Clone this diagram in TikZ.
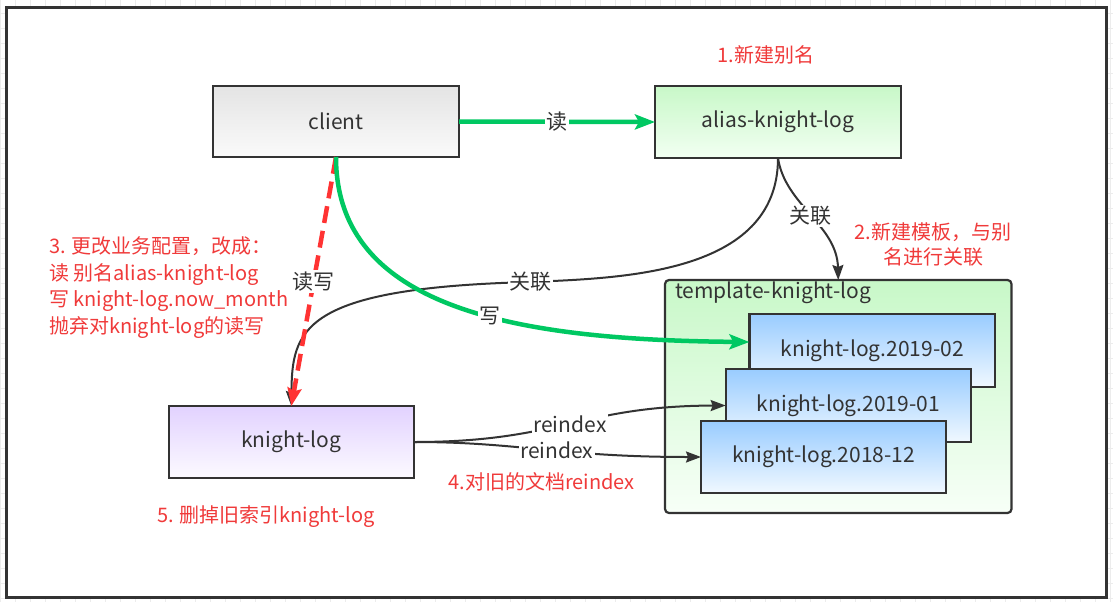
\documentclass[tikz,border=0pt]{standalone}
\usepackage{fontspec}
\setmainfont{Noto Sans CJK SC}
\usetikzlibrary{arrows.meta}
\definecolor{txt}{HTML}{333333}
\definecolor{redt}{HTML}{F03A3A}
\definecolor{redl}{HTML}{FF3333}
\definecolor{grn}{HTML}{00C862}
\definecolor{gridc}{HTML}{ECECEC}
\definecolor{grayT}{HTML}{E4E4E4}
\definecolor{grayB}{HTML}{FAFAFA}
\definecolor{greenT}{HTML}{C8F8C8}
\definecolor{greenB}{HTML}{F2FFF2}
\definecolor{purpT}{HTML}{E2D2FF}
\definecolor{purpB}{HTML}{FCFAFF}
\definecolor{blueT}{HTML}{99CCFF}
\definecolor{blueB}{HTML}{F0F8FF}
\newcommand\blkfont{\fontsize{21pt}{25pt}\selectfont}
\newcommand\redfont{\fontsize{20pt}{26.5pt}\selectfont}
\tikzset{
  box/.style={rectangle, draw=txt, line width=2.2pt, outer sep=0pt, inner sep=0pt,
    text=txt, font=\blkfont},
  elbl/.style={fill=white, inner sep=1.5pt, text=txt, font=\blkfont},
  redtxt/.style={text=redt, font=\redfont, inner sep=0pt},
  grnline/.style={draw=grn, line width=4.5pt, -{Stealth[length=20pt,width=15pt,inset=4pt]}},
  redline/.style={draw=redl, line width=4.5pt, dash pattern=on 17pt off 8pt,
    -{Stealth[length=18pt,width=14pt,inset=3pt]}},
  blk/.style={draw=txt, line width=2pt, -{Stealth[length=15pt,width=11pt,inset=2pt]}}
}
\begin{document}
\begin{tikzpicture}[x=1pt,y=-1pt]
\useasboundingbox (0,0) rectangle (1113,602);
% background grid
\foreach \i in {0.7,15.7,...,1113} \draw[gridc, line width=0.8pt] (\i,0) -- (\i,602);
\foreach \j in {13,28,...,602} \draw[gridc, line width=0.8pt] (0,\j) -- (1113,\j);
% frame
\draw[draw=txt, line width=3pt, fill=white] (6,8) rectangle (1106,597);

% nodes
\node[box, top color=grayT, bottom color=grayB, minimum width=246pt, minimum height=71pt]
  (client) at (336,121.5) {client};
\node[box, top color=greenT, bottom color=greenB, minimum width=246pt, minimum height=72pt]
  (alias) at (778,122) {alias-knight-log};
\node[box, top color=purpT, bottom color=purpB, minimum width=245.4pt, minimum height=72pt]
  (klog) at (291.3,442) {knight-log};
\node[box, rounded corners=4pt, top color=greenT, bottom color=white!97!green,
  minimum width=346.5pt, minimum height=233pt] (tmpl) at (838.25,396.5) {};
\node[text=txt, font=\blkfont, anchor=west, inner sep=0pt] (tlabel) at (675,293) {template-knight-log};
\node[box, top color=blueT, bottom color=blueB, minimum width=245.6pt, minimum height=73pt]
  (k02) at (872.2,350.5) {knight-log.2019-02};
\node[box, top color=blueT, bottom color=blueB, minimum width=245.3pt, minimum height=73pt]
  (k01) at (848.3,405.5) {knight-log.2019-01};
\node[box, top color=blueT, bottom color=blueB, minimum width=245pt, minimum height=72pt]
  (k12) at (823.5,457) {knight-log.2018-12};

% red notes
\node[redtxt] (note1) at (766,55) {1.新建别名};
\node[redtxt, align=center, font=\fontsize{20pt}{25pt}\selectfont] (note2) at (933,244.5) {2.新建模板，与别\\名进行关联};
\node[redtxt, anchor=west, align=left] (note3) at (49,287.5)
  {3. 更改业务配置，改成：\\读 别名alias-knight-log\\写 knight-log.now\_month\\抛弃对knight-log的读写};
\node[redtxt] (note4) at (541.5,482) {4.对旧的文档reindex};
\node[redtxt] (note5) at (266,517) {5. 删掉旧索引knight-log};

% connectors
\draw[blk] (alias.south) .. controls (785,205) and (837,225) .. node[elbl, pos=0.5] {关联} (tmpl.north);
\draw[blk] (alias.south) .. controls (778,275) and (620,278) .. (530,282) node[elbl] {关联}
  .. controls (300,288) and (292,330) .. (klog.north);
\draw[redline] (client.south) -- node[elbl, pos=0.5] {读写} (klog.north);
\draw[grnline] (client.east) -- node[elbl] {读} (alias.west);
\draw[grnline] (client.south) .. controls (336,310) and (520,340) .. node[elbl, pos=0.57] {写} ([yshift=8.5pt]k02.west);
\draw[blk] (klog.east) .. controls (560,442) and (580,406) .. node[elbl, pos=0.5] {reindex} (k01.west);
\draw[blk] (klog.east) .. controls (520,442) and (560,457) .. node[elbl, pos=0.55] {reindex} (k12.west);
\end{tikzpicture}
\end{document}
